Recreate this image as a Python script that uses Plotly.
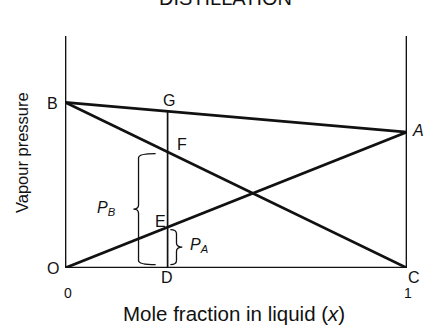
import plotly.graph_objects as go

# Liquid mole fraction of A at the two ends, and at the chosen composition D
x_ends = [0.0, 1.0]
x_d = 0.3

# Vapour pressures at the ends (pure B at x=0, pure A at x=1)
p_b_pure = 1.0
p_a_pure = 0.82

p_b_line = [p_b_pure, 0.0]          # partial pressure of B: line BC
p_a_line = [0.0, p_a_pure]          # partial pressure of A: line OA
p_total = [p_b_pure, p_a_pure]      # total pressure: line BA

# values at D
p_b_d = p_b_pure * (1 - x_d)
p_a_d = p_a_pure * x_d
p_tot_d = p_b_d + p_a_d

FONT = "Liberation Sans, Arial, sans-serif"
BLACK = "#111111"
YMAX = 1.4

fig = go.Figure()

line_style = dict(color=BLACK, width=2.7)
for ys in (p_total, p_b_line, p_a_line):
    fig.add_trace(go.Scatter(x=x_ends, y=ys, mode="lines", line=line_style,
                             hoverinfo="skip", showlegend=False))

# vertical through D up to G
fig.add_trace(go.Scatter(x=[x_d, x_d], y=[0, p_tot_d], mode="lines",
                         line=dict(color=BLACK, width=1.7),
                         hoverinfo="skip", showlegend=False))

shapes = []
# side walls and base
for x0, x1, y0, y1 in ((0, 0, 0, YMAX), (1, 1, 0, YMAX), (0, 1, 0, 0)):
    shapes.append(dict(type="line", xref="x", yref="y", x0=x0, x1=x1,
                       y0=y0, y1=y1, line=dict(color=BLACK, width=2.7)))


def brace(x_body, x_end, x_tip, y_top, y_bot):
    """Curly brace path: ends at x_end, body at x_body, point at x_tip."""
    ym = (y_top + y_bot) / 2
    c = 0.025
    return (f"M {x_end},{y_top} Q {x_body},{y_top} {x_body},{y_top - c} "
            f"L {x_body},{ym + c} Q {x_body},{ym} {x_tip},{ym} "
            f"Q {x_body},{ym} {x_body},{ym - c} "
            f"L {x_body},{y_bot + c} Q {x_body},{y_bot} {x_end},{y_bot}")


shapes.append(dict(type="path", xref="x", yref="y",
                   path=brace(x_d - 0.085, x_d - 0.035, x_d - 0.1,
                              p_b_d - 0.01, 0.02),
                   line=dict(color=BLACK, width=1.3)))
shapes.append(dict(type="path", xref="x", yref="y",
                   path=brace(x_d + 0.026, x_d + 0.008, x_d + 0.043,
                              p_a_d - 0.015, 0.02),
                   line=dict(color=BLACK, width=1.3)))

ann = []


def label(text, x, y, size=16, **kw):
    # positions given in data units; placed on paper so they can sit
    # outside the axis ranges
    ann.append(dict(text=text, x=x, y=y / YMAX, xref="paper", yref="paper",
                    xanchor="center", yanchor="middle", showarrow=False,
                    font=dict(family=FONT, size=size, color=BLACK), **kw))


label("B", -0.036, p_b_pure - 0.005)
label("G", x_d + 0.003, p_tot_d + 0.065)
label("F", x_d + 0.042, p_b_d + 0.045)
label("E", x_d - 0.02, p_a_d + 0.035)
label("O", -0.036, 0.0)
label("D", x_d - 0.002, -0.055)
label("C", 1.02, -0.06)
label("<i>A</i>", 1.032, p_a_pure + 0.01)
label("<i>P</i><sub><i>B</i></sub>", x_d - 0.18, 0.36)
label("<i>P</i><sub><i>A</i></sub>", x_d + 0.093, 0.135)
label("0", 0.01, -0.152, size=14)
label("1", 1.003, -0.152, size=14)
label("Mole fraction in liquid (<i>x</i>)", 0.495, -0.272, size=20.5)
label("Vapour pressure", -0.125, 0.695, size=16.5, textangle=-90)
label("DISTILLATION", 0.47, 1.63, size=20)

fig.update_layout(
    width=424, height=329,
    margin=dict(l=65, r=17, t=36, b=61),
    paper_bgcolor="white", plot_bgcolor="white",
    xaxis=dict(range=[0, 1], visible=False, fixedrange=True),
    yaxis=dict(range=[0, YMAX], visible=False, fixedrange=True),
    shapes=shapes, annotations=ann,
    showlegend=False,
)

fig.write_html("out.html")
